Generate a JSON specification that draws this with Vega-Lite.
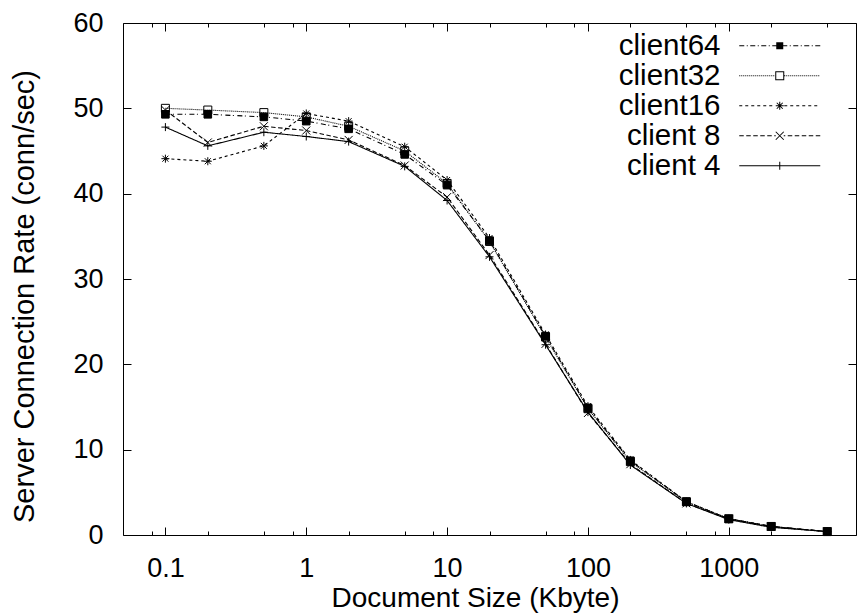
{
  "$schema": "https://vega.github.io/schema/vega-lite/v6.json",
  "autosize": {"type": "none"},
  "padding": {"left": 123, "top": 23, "right": 1, "bottom": 81},
  "width": 733,
  "height": 512,
  "background": "white",
  "config": {
    "font": "Liberation Sans",
    "view": {"stroke": "black", "strokeWidth": 1},
    "axis": {
      "domain": false,
      "grid": false,
      "tickColor": "black",
      "tickWidth": 1,
      "labelColor": "black",
      "titleColor": "black",
      "labelFont": "Liberation Sans",
      "titleFont": "Liberation Sans",
      "labelFontSize": 27,
      "titleFontSize": 28,
      "titleFontWeight": "normal",
      "labelOverlap": false,
      "labelFlush": false
    },
    "legend": {"labelFont": "Liberation Sans"}
  },
  "data": {
    "values": [
      {"client": "client64", "size": 0.1, "rate": 49.3},
      {"client": "client64", "size": 0.2, "rate": 49.3},
      {"client": "client64", "size": 0.5, "rate": 49.0},
      {"client": "client64", "size": 1, "rate": 48.5},
      {"client": "client64", "size": 2, "rate": 47.6},
      {"client": "client64", "size": 5, "rate": 44.6},
      {"client": "client64", "size": 10, "rate": 41.0},
      {"client": "client64", "size": 20, "rate": 34.5},
      {"client": "client64", "size": 50, "rate": 23.3},
      {"client": "client64", "size": 100, "rate": 14.9},
      {"client": "client64", "size": 200, "rate": 8.7},
      {"client": "client64", "size": 500, "rate": 3.9},
      {"client": "client64", "size": 1000, "rate": 1.9},
      {"client": "client64", "size": 2000, "rate": 1.0},
      {"client": "client64", "size": 5000, "rate": 0.4},
      {"client": "client32", "size": 0.1, "rate": 50.0},
      {"client": "client32", "size": 0.2, "rate": 49.8},
      {"client": "client32", "size": 0.5, "rate": 49.5},
      {"client": "client32", "size": 1, "rate": 49.0},
      {"client": "client32", "size": 2, "rate": 47.9},
      {"client": "client32", "size": 5, "rate": 45.0},
      {"client": "client32", "size": 10, "rate": 41.2},
      {"client": "client32", "size": 20, "rate": 34.4},
      {"client": "client32", "size": 50, "rate": 23.2},
      {"client": "client32", "size": 100, "rate": 14.8},
      {"client": "client32", "size": 200, "rate": 8.6},
      {"client": "client32", "size": 500, "rate": 3.9},
      {"client": "client32", "size": 1000, "rate": 1.9},
      {"client": "client32", "size": 2000, "rate": 1.0},
      {"client": "client32", "size": 5000, "rate": 0.4},
      {"client": "client16", "size": 0.1, "rate": 44.1},
      {"client": "client16", "size": 0.2, "rate": 43.8},
      {"client": "client16", "size": 0.5, "rate": 45.6},
      {"client": "client16", "size": 1, "rate": 49.4},
      {"client": "client16", "size": 2, "rate": 48.5},
      {"client": "client16", "size": 5, "rate": 45.5},
      {"client": "client16", "size": 10, "rate": 41.6},
      {"client": "client16", "size": 20, "rate": 34.8},
      {"client": "client16", "size": 50, "rate": 23.5},
      {"client": "client16", "size": 100, "rate": 15.1},
      {"client": "client16", "size": 200, "rate": 8.8},
      {"client": "client16", "size": 500, "rate": 3.9},
      {"client": "client16", "size": 1000, "rate": 1.9},
      {"client": "client16", "size": 2000, "rate": 1.0},
      {"client": "client16", "size": 5000, "rate": 0.4},
      {"client": "client 8", "size": 0.1, "rate": 49.8},
      {"client": "client 8", "size": 0.2, "rate": 46.0},
      {"client": "client 8", "size": 0.5, "rate": 47.9},
      {"client": "client 8", "size": 1, "rate": 47.4},
      {"client": "client 8", "size": 2, "rate": 46.3},
      {"client": "client 8", "size": 5, "rate": 43.3},
      {"client": "client 8", "size": 10, "rate": 39.6},
      {"client": "client 8", "size": 20, "rate": 32.8},
      {"client": "client 8", "size": 50, "rate": 22.4},
      {"client": "client 8", "size": 100, "rate": 14.3},
      {"client": "client 8", "size": 200, "rate": 8.3},
      {"client": "client 8", "size": 500, "rate": 3.7},
      {"client": "client 8", "size": 1000, "rate": 1.9},
      {"client": "client 8", "size": 2000, "rate": 1.0},
      {"client": "client 8", "size": 5000, "rate": 0.4},
      {"client": "client 4", "size": 0.1, "rate": 47.8},
      {"client": "client 4", "size": 0.2, "rate": 45.6},
      {"client": "client 4", "size": 0.5, "rate": 47.2},
      {"client": "client 4", "size": 1, "rate": 46.7},
      {"client": "client 4", "size": 2, "rate": 46.1},
      {"client": "client 4", "size": 5, "rate": 43.2},
      {"client": "client 4", "size": 10, "rate": 39.2},
      {"client": "client 4", "size": 20, "rate": 32.6},
      {"client": "client 4", "size": 50, "rate": 22.3},
      {"client": "client 4", "size": 100, "rate": 14.4},
      {"client": "client 4", "size": 200, "rate": 8.2},
      {"client": "client 4", "size": 500, "rate": 3.7},
      {"client": "client 4", "size": 1000, "rate": 1.8},
      {"client": "client 4", "size": 2000, "rate": 0.9},
      {"client": "client 4", "size": 5000, "rate": 0.4}
    ]
  },
  "layer": [
    {
      "mark": {"type": "line", "stroke": "black", "strokeWidth": 1.1},
      "encoding": {
        "x": {
          "field": "size", "type": "quantitative",
          "scale": {"type": "log", "domain": [0.05, 8000], "nice": false},
          "axis": {
            "orient": "bottom",
            "title": "Document Size (Kbyte)",
            "values": [0.1, 1, 10, 100, 1000],
            "format": "~g",
            "tickSize": -8,
            "labelPadding": 28,
            "titleBaseline": "alphabetic",
            "titleX": 352,
            "titleY": 71
          }
        },
        "y": {
          "field": "rate", "type": "quantitative",
          "scale": {"domain": [0, 60], "nice": false},
          "axis": {
            "orient": "left",
            "title": "Server Connection Rate (conn/sec)",
            "titleFontSize": 29,
            "values": [0, 10, 20, 30, 40, 50, 60],
            "tickSize": -8,
            "labelPadding": 28,
            "titleBaseline": "alphabetic",
            "titleX": -90,
            "titleY": 273
          }
        },
        "strokeDash": {
          "field": "client", "type": "nominal",
          "scale": {
            "domain": ["client64", "client32", "client16", "client 8", "client 4"],
            "range": [[5, 2.5, 1, 3.5], [1, 1], [3, 3], [4.5, 2.5], [1, 0]]
          },
          "legend": null
        }
      }
    },
    {
      "mark": {"type": "point", "size": 64, "stroke": "black", "strokeWidth": 1, "opacity": 1},
      "encoding": {
        "x": {
          "field": "size", "type": "quantitative",
          "axis": {
            "orient": "top",
            "title": null,
            "labels": false,
            "values": [0.1, 1, 10, 100, 1000],
            "tickSize": -8
          }
        },
        "y": {
          "field": "rate", "type": "quantitative",
          "axis": {
            "orient": "right",
            "title": null,
            "labels": false,
            "values": [0, 10, 20, 30, 40, 50, 60],
            "tickSize": -8
          }
        },
        "shape": {
          "field": "client", "type": "nominal",
          "scale": {
            "domain": ["client64", "client32", "client16", "client 8", "client 4"],
            "range": [
              "M-0.95,-0.95H0.95V0.95H-0.95Z",
              "M-1,-1H1V1H-1Z",
              "M-1,0H1M0,-1V1M-0.75,-0.75L0.75,0.75M-0.75,0.75L0.75,-0.75",
              "M-1,-1L1,1M-1,1L1,-1",
              "M-1,0H1M0,-1V1"
            ]
          },
          "legend": null
        },
        "fill": {
          "field": "client", "type": "nominal",
          "scale": {
            "domain": ["client64", "client32", "client16", "client 8", "client 4"],
            "range": ["black", "transparent", "black", "black", "black"]
          },
          "legend": null
        }
      }
    },
    {
      "mark": {"type": "point", "filled": true, "fill": "black", "stroke": "black", "strokeWidth": 0, "opacity": 0},
      "encoding": {
        "x": {
          "field": "size", "type": "quantitative",
          "axis": {
            "orient": "bottom",
            "title": null,
            "labels": false,
            "values": [0.08, 0.2, 0.5, 0.8, 2, 5, 8, 20, 50, 80, 200, 500, 800, 2000, 5000],
            "tickSize": -4
          }
        },
        "y": {"field": "rate", "type": "quantitative", "axis": null},
        "shape": {
          "field": "client", "type": "nominal",
          "scale": {
            "domain": ["client64", "client32", "client16", "client 8", "client 4"],
            "range": [
              "M-40.5,-0.5h5v1h-5zm7.5,0h1v1h-1zm3.5,0h5v1h-5zm7.5,0h1v1h-1zm3.5,0h5v1h-5zm7.5,0h1v1h-1zm3.5,0h4v1h-4zM3.5,-0.5h4v1h-4zm6.5,0h1v1h-1zm3.5,0h5v1h-5zm7.5,0h1v1h-1zm3.5,0h5v1h-5zm7.5,0h1v1h-1zm3.5,0h5v1h-5zM-3.5,-3.5H3.5V3.5H-3.5Z",
              "M-40.5,-0.5h1v1h-1zm2,0h1v1h-1zm2,0h1v1h-1zm2,0h1v1h-1zm2,0h1v1h-1zm2,0h1v1h-1zm2,0h1v1h-1zm2,0h1v1h-1zm2,0h1v1h-1zm2,0h1v1h-1zm2,0h1v1h-1zm2,0h1v1h-1zm2,0h1v1h-1zm2,0h1v1h-1zm2,0h1v1h-1zm2,0h1v1h-1zm2,0h1v1h-1zm2,0h1v1h-1zM4.5,-0.5h1v1h-1zm2,0h1v1h-1zm2,0h1v1h-1zm2,0h1v1h-1zm2,0h1v1h-1zm2,0h1v1h-1zm2,0h1v1h-1zm2,0h1v1h-1zm2,0h1v1h-1zm2,0h1v1h-1zm2,0h1v1h-1zm2,0h1v1h-1zm2,0h1v1h-1zm2,0h1v1h-1zm2,0h1v1h-1zm2,0h1v1h-1zm2,0h1v1h-1zm2,0h1v1h-1zM-4.5,-4.5H4.5V4.5H-4.5ZM-3.5,-3.5V3.5H3.5V-3.5Z",
              "M-40.5,-0.5h3v1h-3zm6,0h3v1h-3zm6,0h3v1h-3zm6,0h3v1h-3zm6,0h3v1h-3zm6,0h3v1h-3zM4.5,-0.5h3v1h-3zm6,0h3v1h-3zm6,0h3v1h-3zm6,0h3v1h-3zm6,0h3v1h-3zm6,0h3v1h-3zM-4,-0.5H4V0.5H-4ZM-0.5,-4H0.5V4H-0.5ZM-2.65,-3.35L3.35,2.65L2.65,3.35L-3.35,-2.65ZM-3.35,2.65L2.65,-3.35L3.35,-2.65L-2.65,3.35Z",
              "M-40.5,-0.5h4.5v1h-4.5zm7,0h4.5v1h-4.5zm7,0h4.5v1h-4.5zm7,0h4.5v1h-4.5zm7,0h4.5v1h-4.5zm7,0h1.5v1h-1.5zM4,-0.5h1.5v1h-1.5zm4,0h4.5v1h-4.5zm7,0h4.5v1h-4.5zm7,0h4.5v1h-4.5zm7,0h4.5v1h-4.5zm7,0h4.5v1h-4.5zM-3.65,-4.35L4.35,3.65L3.65,4.35L-4.35,-3.65ZM-4.35,3.65L3.65,-4.35L4.35,-3.65L-3.65,4.35Z",
              "M-40.5,-0.5H40.5V0.5H-40.5ZM-0.5,-4H0.5V4H-0.5Z"
            ]
          },
          "legend": {
            "orient": "none",
            "legendX": 642,
            "legendY": 8,
            "title": null,
            "labelFontSize": 29.5,
            "labelAlign": "right",
            "labelBaseline": "middle",
            "labelOffset": -74,
            "labelLimit": 0,
            "labelColor": "black",
            "symbolSize": 4,
            "symbolOpacity": 1,
            "symbolStrokeWidth": 0,
            "symbolFillColor": "black",
            "symbolStrokeColor": "black",
            "rowPadding": -1
          }
        }
      }
    },
    {
      "mark": {"type": "point", "opacity": 0, "size": 1},
      "encoding": {
        "x": {
          "field": "size", "type": "quantitative",
          "axis": {
            "orient": "top",
            "title": null,
            "labels": false,
            "values": [0.08, 0.2, 0.5, 0.8, 2, 5, 8, 20, 50, 80, 200, 500, 800, 2000, 5000],
            "tickSize": -4
          }
        },
        "y": {"field": "rate", "type": "quantitative", "axis": null}
      }
    }
  ],
  "resolve": {
    "axis": {"x": "independent", "y": "independent"},
    "scale": {"shape": "independent"}
  }
}
